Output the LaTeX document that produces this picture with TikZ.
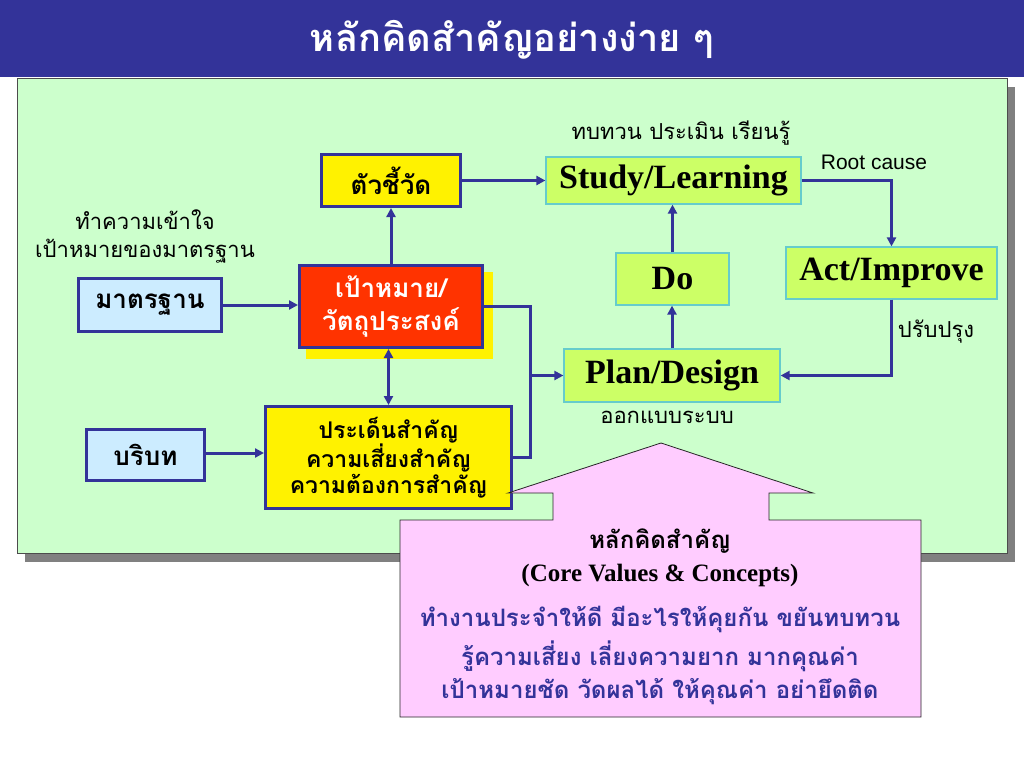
\documentclass[tikz,border=0pt]{standalone}
\usepackage{fontspec}
\setmainfont{Liberation Serif}
\newfontfamily\thai[Script=Thai]{Loma}
\newfontfamily\arialf{Liberation Sans}
\usetikzlibrary{arrows.meta,calc}
\definecolor{navy}{HTML}{333399}
\definecolor{panelgreen}{HTML}{CCFFCC}
\definecolor{lightblue}{HTML}{CCECFF}
\definecolor{redbox}{HTML}{FF3300}
\definecolor{limefill}{HTML}{CCFF66}
\definecolor{limeedge}{HTML}{66CCCC}
\definecolor{pinkfill}{HTML}{FFCCFF}
\definecolor{shadowgray}{HTML}{808080}
\tikzset{
  arr/.style={draw=navy, line width=3pt, -{Triangle[length=9pt,width=9pt]}},
  dblarr/.style={draw=navy, line width=3pt, {Triangle[length=9pt,width=9pt]}-{Triangle[length=9pt,width=9pt]}},
  link/.style={draw=navy, line width=3pt},
  boldbox/.style={draw=navy, line width=3pt, inner sep=0pt, align=center,
    font=\thai\bfseries\fontsize{26}{33}\selectfont},
  pdca/.style={fill=limefill, draw=limeedge, line width=1.2pt, inner sep=0pt,
    font=\bfseries\fontsize{34}{40}\selectfont},
  lbl/.style={font=\thai\fontsize{22}{28}\selectfont, align=center, inner sep=0pt},
  pinkthai/.style={font=\thai\bfseries\fontsize{24}{30}\selectfont, inner sep=0pt},
}
\begin{document}
\begin{tikzpicture}[x=1pt,y=-1pt]
\useasboundingbox (0,0) rectangle (1024,768);
\fill[white] (0,0) rectangle (1024,768);
% title bar
\fill[navy] (0,0) rectangle (1024,77);
\node[text=white, font=\thai\bfseries\fontsize{38}{44}\selectfont, inner sep=0pt] (title) at (512,40) {หลักคิดสำคัญอย่างง่าย ๆ};
% panel
\fill[shadowgray] (25,87) rectangle (1015,562);
\filldraw[fill=panelgreen, draw=black!70, line width=0.8pt] (17,78) rectangle (1007,553);
% yellow shadow of goal
\fill[yellow] (306,272) rectangle (493,359);
% boxes
\node[boldbox, fill=yellow, minimum width=139pt, minimum height=52pt] (ind) at (391,180.5) {ตัวชี้วัด};
\node[boldbox, fill=lightblue, minimum width=143pt, minimum height=53pt] (std) at (150,305) {มาตรฐาน};
\node[boldbox, fill=redbox, text=white, minimum width=183pt, minimum height=82pt] (goal) at (391,306.5) {เป้าหมาย/\\วัตถุประสงค์};
\node[boldbox, fill=lightblue, minimum width=118pt, minimum height=51pt] (ctx) at (145.5,455) {บริบท};
\node[boldbox, fill=yellow, minimum width=246pt, minimum height=102pt, font=\thai\bfseries\fontsize{23}{26}\selectfont] (iss) at (388.5,457.5) {ประเด็นสำคัญ\\ความเสี่ยงสำคัญ\\ความต้องการสำคัญ};
\node[pdca, minimum width=255pt, minimum height=47pt] (study) at (673.5,180.5) {Study/Learning};
\node[pdca, minimum width=113pt, minimum height=52pt] (do) at (672.5,279) {Do};
\node[pdca, minimum width=211pt, minimum height=52pt] (act) at (891.5,273) {Act/Improve};
\node[pdca, minimum width=216pt, minimum height=53pt] (plan) at (672,375.5) {Plan/Design};
% labels
\node[lbl] (lunder) at (145,236) {ทำความเข้าใจ\\เป้าหมายของมาตรฐาน};
\node[lbl] (lreview) at (681,133) {ทบทวน ประเมิน เรียนรู้};
\node[font=\arialf\fontsize{21}{24}\selectfont, inner sep=0pt] (lroot) at (874,162) {Root cause};
\node[lbl] (limprove) at (936,332) {ปรับปรุง};
\node[lbl] (ldesign) at (667,417) {ออกแบบระบบ};
% connectors
\draw[arr] (std.east) -- (std.east -| goal.west);
\draw[arr] (goal.north) -- (ind.south);
\draw[arr] (ind.east) -- (ind.east -| study.west);
\draw[dblarr] (iss.north |- goal.south) -- (iss.north);
\draw[arr] ([yshift=2pt]ctx.east) -- ([yshift=2pt]ctx.east -| iss.west);
\coordinate (j) at (530,375.5);
\draw[link] (goal.east) -| (j) |- (iss.east);
\draw[arr] (j) -- (plan.west);
\draw[arr] (plan.north) -- (plan.north |- do.south);
\draw[arr] (do.north) -- (do.north |- study.south);
\draw[arr] (study.east) -| (act.north);
\draw[arr] (act.south) |- (plan.east);
% core values arrow shape
\filldraw[fill=pinkfill, draw=black!85, line width=0.8pt]
  (400,520) -- (553,520) -- (553,493) -- (508,493) -- (661,443) -- (813,493)
  -- (769,493) -- (769,520) -- (921,520) -- (921,717) -- (400,717) -- cycle;
\node[pinkthai] (cvh) at (660,541) {หลักคิดสำคัญ};
\node[font=\bfseries\fontsize{25}{30}\selectfont, inner sep=0pt] (cve) at (660,575) {(Core Values \& Concepts)};
\node[pinkthai, text=navy] (cv1) at (660,619) {ทำงานประจำให้ดี มีอะไรให้คุยกัน ขยันทบทวน};
\node[pinkthai, text=navy] (cv2) at (660,656) {รู้ความเสี่ยง เลี่ยงความยาก มากคุณค่า};
\node[pinkthai, text=navy] (cv3) at (660,692) {เป้าหมายชัด วัดผลได้ ให้คุณค่า อย่ายึดติด};
\end{tikzpicture}
\end{document}
